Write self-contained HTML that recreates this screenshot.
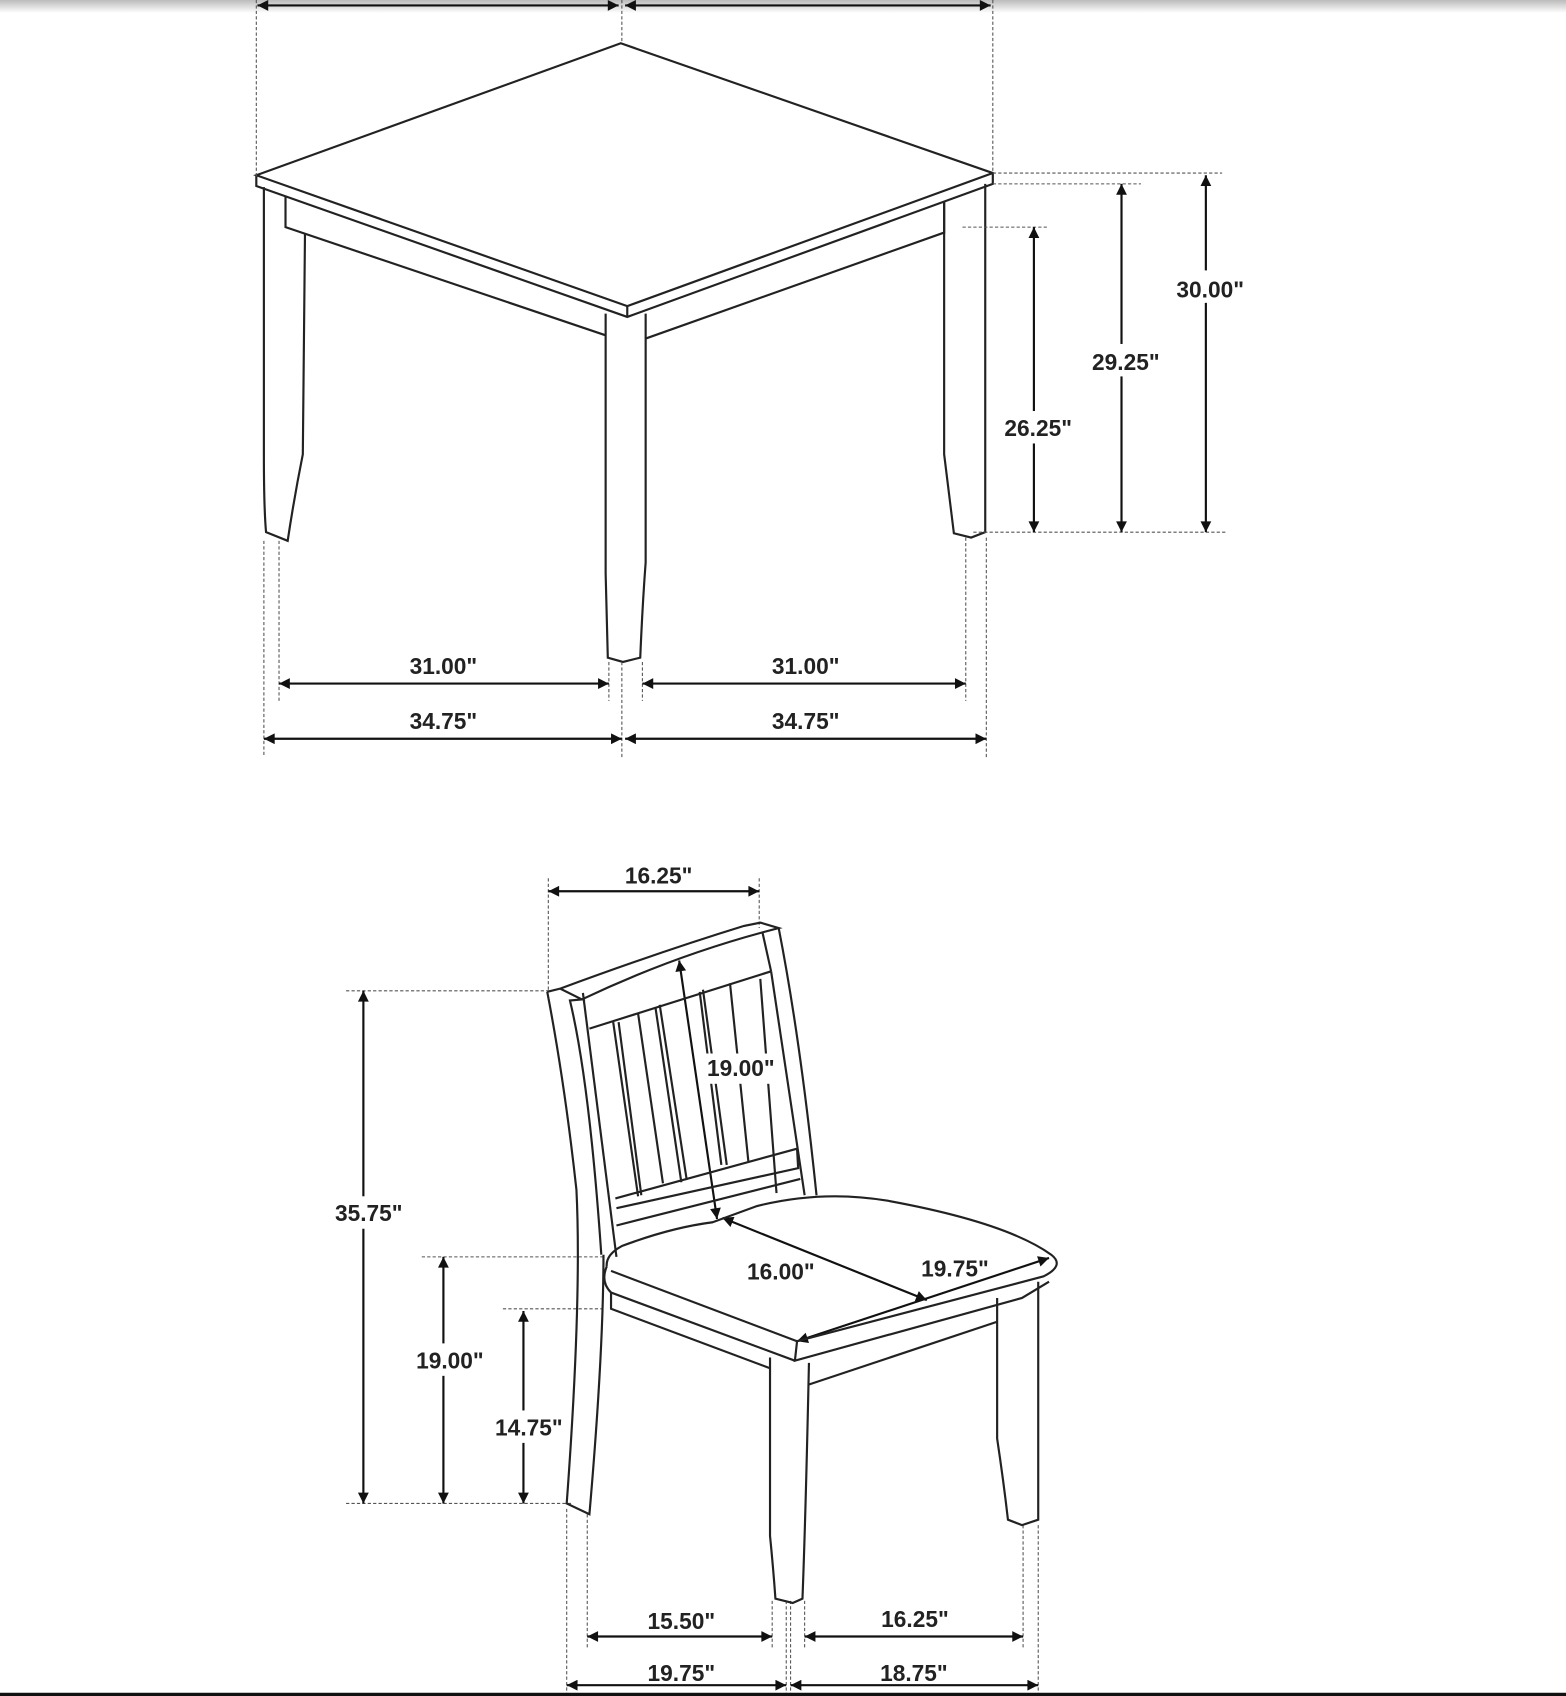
<!DOCTYPE html>
<html><head><style>html,body{margin:0;padding:0;background:#fff}svg{display:block}
text{font-family:"Liberation Sans",sans-serif;font-weight:bold;font-size:21px;fill:#222;text-anchor:middle}</style></head>
<body>
<svg width="1566" height="1696" viewBox="0 0 1448 1568" preserveAspectRatio="none" xmlns="http://www.w3.org/2000/svg">
<defs>
<marker id="a" viewBox="0 0 10 10" refX="10" refY="5" markerWidth="12" markerHeight="10" markerUnits="userSpaceOnUse" orient="auto-start-reverse"><path d="M0,0L10,5L0,10z" fill="#111"/></marker>
<linearGradient id="g" x1="0" y1="0" x2="0" y2="1"><stop offset="0" stop-color="#bbb"/><stop offset="1" stop-color="#fff"/></linearGradient>
</defs>
<rect x="0" y="0" width="1448" height="12" fill="url(#g)"/>
<g fill="none" stroke="#222" stroke-width="2">
<path d="M237,162 L574,40 L918,160 L580,283 Z"/>
<path d="M237,162 L237,172 L580,293 L918,170 L918,160"/>
<path d="M580,283 L580,293"/>
<path d="M264,182 L264,210 L560,310"/>
<path d="M597,313 L873,215 L873,186"/>
<path d="M244,173 L244,420 Q244,470 246,492 L266,500 Q272,460 280,420 L282,216"/>
<path d="M560,290 L560,530 L562,608 L576,612 L592,608 Q594,560 597,520 L597,290"/>
<path d="M873,186 L873,420 Q878,460 882,493 L898,497 L911,492 L911,170"/>
</g>
<g fill="none" stroke="#555" stroke-width="1" stroke-dasharray="3,2">
<path d="M237,0V165M918,0V160M575,0V40M918,160H1130M918,170H1055M890,210H970M900,492H1135"/>
<path d="M244,500V700M575,612V700M912,497V700M258,500V648M563,612V648M594,612V648M893,497V648"/>
<path d="M320,916H510M390,1162H560M465,1210H557M320,1390H528M507,812V915M702,812V858"/>
<path d="M524,1395V1568M543,1400V1525M714,1480V1525M727,1480V1568M731,1480V1568M744,1480V1525M946,1410V1525M960,1410V1568"/>
</g>
<g stroke="#111" stroke-width="2" marker-start="url(#a)" marker-end="url(#a)">
<line x1="238" y1="5" x2="572" y2="5"/><line x1="578" y1="5" x2="916" y2="5"/>
<line x1="1115" y1="162" x2="1115" y2="492"/>
<line x1="1037" y1="170" x2="1037" y2="492"/>
<line x1="956" y1="210" x2="956" y2="492"/>
<line x1="258" y1="632" x2="563" y2="632"/><line x1="594" y1="632" x2="893" y2="632"/>
<line x1="244" y1="683" x2="575" y2="683"/><line x1="578" y1="683" x2="912" y2="683"/>
<line x1="507" y1="824" x2="702" y2="824"/>
<line x1="336" y1="916" x2="336" y2="1390"/>
<line x1="410" y1="1162" x2="410" y2="1390"/>
<line x1="484" y1="1212" x2="484" y2="1390"/>
<line x1="628" y1="888" x2="663" y2="1127"/>
<line x1="668" y1="1126" x2="857" y2="1202"/>
<line x1="737" y1="1240" x2="970" y2="1163"/>
<line x1="543" y1="1513" x2="714" y2="1513"/><line x1="744" y1="1513" x2="946" y2="1513"/>
<line x1="524" y1="1558" x2="727" y2="1558"/><line x1="731" y1="1558" x2="960" y2="1558"/>
</g>
<rect x="1080" y="250" width="78" height="30" fill="#fff"/>
<rect x="1002" y="318" width="78" height="30" fill="#fff"/>
<rect x="922" y="380" width="78" height="30" fill="#fff"/>
<rect x="302" y="1106" width="76" height="30" fill="#fff"/>
<rect x="378" y="1242" width="76" height="30" fill="#fff"/>
<rect x="452" y="1304" width="76" height="30" fill="#fff"/>
<!-- chair -->
<g fill="none" stroke="#222" stroke-width="2">
<!-- left rear post -->
<path d="M506,917 Q522,1000 533,1100 Q538,1200 524,1390 L545,1400 Q558,1250 558,1160"/>
<path d="M506,917 L518,914 L538,924 L527,925 Q545,1000 556,1160"/>
<path d="M539,918 Q555,1040 570,1162"/>
<!-- top rail -->
<path d="M518,914 Q610,880 688,856 L703,853 L720,858 L705,862 Q620,885 538,924"/>
<path d="M545,951 L713,898"/>
<path d="M705,862 L713,898"/>
<!-- right post -->
<path d="M720,858 Q740,960 755,1105"/>
<path d="M713,898 Q728,1000 744,1105"/>
<path d="M703,905 L718,1103"/>
<!-- slats -->
<path d="M567,945L590,1106M572,945L593,1105M590,937L613,1094M606,931L630,1093M610,929L635,1091M647,917L667,1077M650,915L672,1077M675,909L692,1074"/>
<!-- lower rail -->
<path d="M569,1108 L737,1062 L738,1080 L570,1117"/>
<path d="M570,1133 L740,1090"/>
<!-- seat -->
<path d="M561,1171 Q560,1160 575,1152 Q620,1135 659,1130 L700,1115 Q760,1100 820,1110 Q930,1130 972,1160 Q985,1170 965,1180 L737,1240 L735,1258 L945,1200 L970,1185"/>
<path d="M561,1171 Q555,1185 565,1195 L735,1258 M737,1240 L565,1175"/>
<path d="M565,1195 L565,1210 L712,1265"/>
<path d="M712,1255 L712,1420 Q715,1450 717,1478 L733,1482 L742,1478 Q745,1400 748,1260"/>
<path d="M748,1280 L922,1222"/>
<path d="M922,1200 L922,1330 Q928,1370 932,1405 L945,1410 L960,1405 L960,1185"/>
</g>
<rect x="650" y="974" width="72" height="28" fill="#fff"/>
<text x="1119" y="275">30.00"</text>
<text x="1041" y="342">29.25"</text>
<text x="960" y="403">26.25"</text>
<text x="410" y="623">31.00"</text>
<text x="745" y="623">31.00"</text>
<text x="410" y="674">34.75"</text>
<text x="745" y="674">34.75"</text>
<text x="609" y="817">16.25"</text>
<text x="685" y="995">19.00"</text>
<text x="341" y="1129">35.75"</text>
<text x="722" y="1183">16.00"</text>
<text x="883" y="1180">19.75"</text>
<text x="416" y="1265">19.00"</text>
<text x="489" y="1327">14.75"</text>
<text x="630" y="1506">15.50"</text>
<text x="846" y="1504">16.25"</text>
<text x="630" y="1554">19.75"</text>
<text x="845" y="1554">18.75"</text>
<rect x="0" y="1565" width="1448" height="3" fill="#111"/>
</svg>
</body></html>
